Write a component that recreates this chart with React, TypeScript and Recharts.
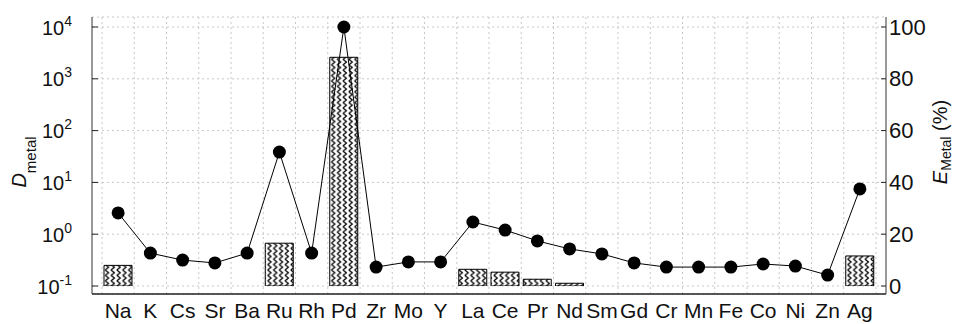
import React from "react";
import { ComposedChart, Bar, Line, XAxis, YAxis, CartesianGrid } from "recharts";

const elements = ["Na", "K", "Cs", "Sr", "Ba", "Ru", "Rh", "Pd", "Zr", "Mo", "Y", "La", "Ce", "Pr", "Nd", "Sm", "Gd", "Cr", "Mn", "Fe", "Co", "Ni", "Zn", "Ag"];
// distribution ratio (left, log axis); null = no bar
const dMetal = [0.25, null, null, null, null, 0.67, null, 2600, null, null, null, 0.21, 0.185, 0.135, 0.113, null, null, null, null, null, null, null, null, 0.38];
// extraction % (right axis)
const eMetal = [28.2, 12.7, 10, 8.9, 12.7, 51.7, 12.7, 100, 7.3, 9.3, 9.3, 24.7, 21.6, 17.4, 14.3, 12.4, 8.9, 7.3, 7.3, 7.3, 8.5, 7.7, 4.2, 37.5];
const logTicks = [0.1, 1, 10, 100, 1000, 10000];
const pctTicks = [0, 20, 40, 60, 80, 100];

const data = elements.map((el, i) => ({ el, d: dMetal[i], e: eMetal[i] }));

const FONT = "'Liberation Sans', Arial, sans-serif";
const X_PAD = 10;

function LogTick(props: any) {
  const { x, y, payload } = props;
  const exp = Math.round(Math.log10(payload.value));
  return (
    <g>
      <line x1={x} x2={x + 6} y1={y} y2={y} stroke="#222" />
      <text x={x - 20} y={y + 7.5} textAnchor="end" fontSize={20} fill="#111" fontFamily={FONT}>
        <tspan>10</tspan>
        <tspan dy={-9} fontSize={14}>{exp}</tspan>
      </text>
    </g>
  );
}

function PctTick(props: any) {
  const { x, y, payload } = props;
  return (
    <g>
      <line x1={x} x2={x - 5} y1={y} y2={y} stroke="#222" />
      <text x={x + 3} y={y + 7.5} textAnchor="start" fontSize={22} fill="#111" fontFamily={FONT}>
        {payload.value}
      </text>
    </g>
  );
}

// grid lines sit on the category boundaries
const verticalLines = ({ xAxis, offset }: any) => {
  const s = xAxis && xAxis.scale;
  try {
    if (s && typeof s === "function" && typeof s.bandwidth === "function") {
      const pts = elements.map((e) => s(e));
      pts.push(s(elements[elements.length - 1]) + s.bandwidth());
      if (pts.every((p) => Number.isFinite(p))) return pts;
    }
  } catch (err) {
    // fall through
  }
  const band = (offset.width - 2 * X_PAD) / elements.length;
  return elements.concat([""]).map((_, i) => offset.left + X_PAD + i * band);
};

export default function App() {
  return (
    <div style={{ position: "absolute", left: 0, top: 0 }}>
      <ComposedChart
        width={956}
        height={324}
        data={data}
        margin={{ top: 17, right: 20, bottom: 0, left: 30 }}
        style={{ fontFamily: FONT }}
      >
        <defs>
          <pattern id="zig" patternUnits="userSpaceOnUse" width="5.8" height="5.4">
            <rect width="5.8" height="5.4" fill="#fff" />
            <path d="M0.8,0 L4.2,2.7 L0.8,5.4" fill="none" stroke="#000" strokeWidth="1.3" />
          </pattern>
        </defs>
        <CartesianGrid
          yAxisId="left"
          stroke="#c8c8c8"
          strokeDasharray="2 3"
          verticalCoordinatesGenerator={verticalLines}
        />
        <XAxis
          dataKey="el"
          interval={0}
          height={30}
          padding={{ left: X_PAD, right: X_PAD }}
          axisLine={{ stroke: "#222", strokeWidth: 1.5 }}
          tickLine={false}
          tickSize={0}
          tickMargin={9}
          tick={{ fontSize: 21, fill: "#111", fontFamily: FONT }}
        />
        <XAxis
          xAxisId="top"
          dataKey="el"
          orientation="top"
          height={0}
          tick={false}
          tickLine={false}
          axisLine={{ stroke: "#333" }}
        />
        <YAxis
          yAxisId="left"
          scale="log"
          domain={[0.1, 10000]}
          ticks={logTicks}
          interval={0}
          allowDataOverflow
          width={62}
          padding={{ top: 10, bottom: 8 }}
          axisLine={{ stroke: "#333" }}
          tickLine={false}
          tickSize={0}
          tickMargin={0}
          tick={<LogTick />}
          label={{
            content: () => (
              <text
                x={26}
                y={162}
                transform="rotate(-90 26 162)"
                textAnchor="middle"
                fontSize={20}
                fill="#111"
                fontFamily={FONT}
              >
                <tspan fontStyle="italic">D</tspan>
                <tspan fontSize={15} dy={10}>metal</tspan>
              </text>
            ),
          }}
        />
        <YAxis
          yAxisId="right"
          orientation="right"
          domain={[0, 100]}
          ticks={pctTicks}
          interval={0}
          width={50}
          padding={{ top: 10, bottom: 8 }}
          axisLine={{ stroke: "#333" }}
          tickLine={false}
          tickSize={0}
          tickMargin={0}
          tick={<PctTick />}
          label={{
            content: () => (
              <text
                x={947}
                y={142}
                transform="rotate(-90 947 142)"
                textAnchor="middle"
                fontSize={20}
                fill="#111"
                fontFamily={FONT}
              >
                <tspan fontStyle="italic">E</tspan>
                <tspan fontSize={14} dy={4}>Metal</tspan>
                <tspan dy={-4}> (%)</tspan>
              </text>
            ),
          }}
        />
        <Bar
          yAxisId="left"
          dataKey="d"
          barSize={28}
          fill="url(#zig)"
          stroke="#000"
          strokeWidth={1}
          isAnimationActive={false}
        />
        <Line
          yAxisId="right"
          dataKey="e"
          stroke="#000"
          strokeWidth={1}
          dot={{ r: 6.5, fill: "#000", stroke: "#000", strokeWidth: 0 }}
          activeDot={false}
          isAnimationActive={false}
        />
      </ComposedChart>
    </div>
  );
}
